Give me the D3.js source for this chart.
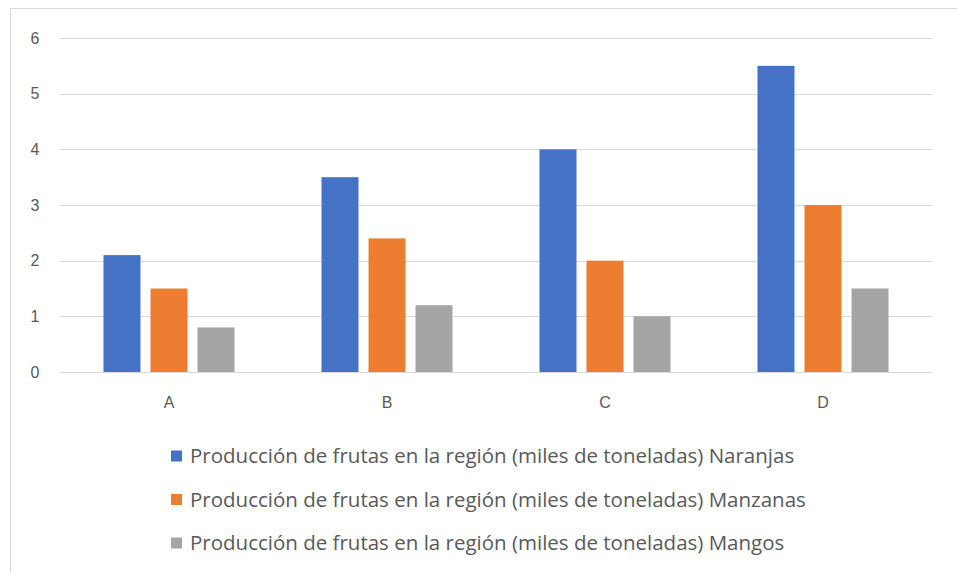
<!DOCTYPE html>
<html>
<head>
<meta charset="utf-8">
<title>Producción de frutas</title>
<script src="https://d3js.org/d3.v7.min.js"></script>
<style>
  body { margin: 0; background: #fff; }
  svg { display: block; font-family: "Open Sans", "DejaVu Sans", sans-serif; }
  .grid line { stroke: #d9d9d9; stroke-width: 1px; }
  .tick text { fill: #595959; }
</style>
</head>
<body>
<svg width="957" height="573"></svg>
<script>
var categories = ["A", "B", "C", "D"];
var seriesNames = [
  "Producción de frutas en la región (miles de toneladas) Naranjas",
  "Producción de frutas en la región (miles de toneladas) Manzanas",
  "Producción de frutas en la región (miles de toneladas) Mangos"
];
var naranjas = [2.1, 3.5, 4.0, 5.5];
var manzanas = [1.5, 2.4, 2.0, 3.0];
var mangos = [0.8, 1.2, 1.0, 1.5];
var colors = ["#4472c4", "#ed7d31", "#a5a5a5"];
var yTicks = [0, 1, 2, 3, 4, 5, 6];

var series = [naranjas, manzanas, mangos];

var svg = d3.select("svg");

// chart border (only top/left visible in the crop)
svg.append("rect")
  .attr("x", 10.5).attr("y", 8.5)
  .attr("width", 980).attr("height", 600)
  .attr("fill", "none").attr("stroke", "#d9d9d9");

var plot = { left: 60, right: 932, top: 38, bottom: 372 };

var x = d3.scaleBand().domain(categories).range([plot.left, plot.right]);
var xInner = d3.scaleBand().domain(d3.range(series.length)).range([0, x.bandwidth()])
  .paddingInner(0.213).paddingOuter(0.925);
var y = d3.scaleLinear().domain([0, 6]).range([plot.bottom, plot.top]);

// gridlines
svg.append("g").attr("class", "grid")
  .selectAll("line").data(yTicks).enter().append("line")
  .attr("x1", plot.left).attr("x2", plot.right)
  .attr("y1", function (d) { return Math.round(y(d)) + 0.5; })
  .attr("y2", function (d) { return Math.round(y(d)) + 0.5; });

// y axis labels
var yAxis = d3.axisLeft(y).tickValues(yTicks).tickFormat(d3.format("d")).tickSize(0);
var yg = svg.append("g").attr("transform", "translate(" + plot.left + ",0)").call(yAxis);
yg.select(".domain").remove();
yg.selectAll("text").style("font-size", "16px").attr("text-anchor", "middle").attr("x", -25);

// x axis labels
var xAxis = d3.axisBottom(x).tickSize(0).tickPadding(25);
var xg = svg.append("g").attr("transform", "translate(0," + plot.bottom + ")").call(xAxis);
xg.select(".domain").remove();
xg.selectAll("text").style("font-size", "16px");

// bars
var groups = svg.append("g").selectAll("g").data(categories).enter().append("g")
  .attr("transform", function (d) { return "translate(" + x(d) + ",0)"; });

groups.selectAll("rect")
  .data(function (d, i) { return series.map(function (s, k) { return { k: k, v: s[i] }; }); })
  .enter().append("rect")
  .attr("x", function (d) { return xInner(d.k); })
  .attr("width", xInner.bandwidth())
  .attr("y", function (d) { return y(d.v); })
  .attr("height", function (d) { return y(0) - y(d.v); })
  .attr("fill", function (d) { return colors[d.k]; });

// legend
var legend = svg.append("g").selectAll("g").data(seriesNames).enter().append("g")
  .attr("transform", function (d, i) { return "translate(171," + (456 + i * 43.5) + ")"; });

legend.append("rect")
  .attr("x", 0).attr("y", -5.5)
  .attr("width", 11).attr("height", 11)
  .attr("fill", function (d, i) { return colors[i]; });

legend.append("text")
  .attr("x", 19).attr("dy", "0.35em")
  .attr("fill", "#595959")
  .style("font-size", "20.5px")
  .text(function (d) { return d; });
</script>
</body>
</html>
